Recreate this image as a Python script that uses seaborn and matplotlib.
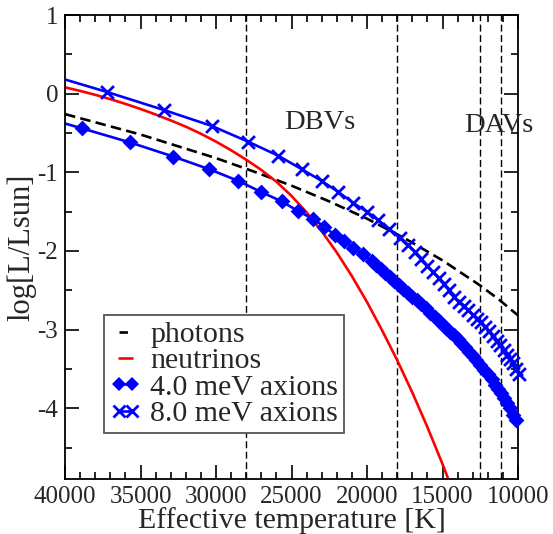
import numpy as np
import pandas as pd
import matplotlib
matplotlib.use("Agg")
import matplotlib.pyplot as plt
from matplotlib.lines import Line2D
from matplotlib.ticker import MultipleLocator
import seaborn as sns

# ---- data ----
T_photons = [40000, 37500, 35000, 32500, 30000, 27500, 25000, 22500, 20000, 17500,
             15000, 12500, 11250, 10000]
L_photons = [-0.26, -0.39, -0.52, -0.67, -0.82, -0.99, -1.17, -1.37, -1.59, -1.84,
             -2.12, -2.44, -2.62, -2.82]

T_neutrinos = [40000, 39000, 38000, 37000, 36000, 35000, 34000, 33000, 32000, 31000,
               30000, 29000, 28000, 27000, 26000, 25000, 24000, 23000, 22000, 21000,
               20000, 19000, 18000, 17000, 16000, 15000, 14000]
L_neutrinos = [0.08, 0.035, -0.015, -0.07, -0.13, -0.195, -0.265, -0.34, -0.42, -0.51,
               -0.61, -0.72, -0.84, -0.97, -1.12, -1.30, -1.51, -1.75, -2.02, -2.32,
               -2.65, -3.01, -3.39, -3.80, -4.24, -4.71, -5.21]

T_ax4 = [40000, 38900, 35700, 32830, 30460, 28520, 27020, 25650, 24590, 23600, 22830,
         22120, 21500, 20910, 20290, 19690, 19400, 19100, 18800, 18500, 18200, 17900,
         17600, 17300, 17000, 16700, 16400, 16100, 15800, 15500, 15250, 15000, 14750,
         14500, 14250, 14000, 13750, 13500, 13250, 13000, 12750, 12500, 12250, 12000,
         11750, 11500, 11300, 11100, 10900, 10700, 10500, 10300, 10130]
L_ax4 = [-0.38, -0.44, -0.62, -0.80, -0.96, -1.11, -1.25, -1.37, -1.49, -1.59, -1.69,
         -1.80, -1.87, -1.96, -2.04, -2.13, -2.18, -2.23, -2.28, -2.33, -2.38, -2.43,
         -2.48, -2.53, -2.58, -2.63, -2.68, -2.73, -2.79, -2.84, -2.89, -2.94, -2.98,
         -3.03, -3.07, -3.12, -3.17, -3.22, -3.28, -3.33, -3.39, -3.45, -3.51, -3.57,
         -3.63, -3.70, -3.75, -3.81, -3.87, -3.93, -4.00, -4.08, -4.15]

T_ax8 = [40000, 37200, 33420, 30290, 27880, 25870, 24330, 23000, 21900, 20910, 20020,
         19250, 18520, 17810, 17260, 16820, 16400, 16000, 15620, 15250, 14900, 14550,
         14220, 13900, 13600, 13300, 13000, 12720, 12450, 12180, 11920, 11670, 11420,
         11180, 10950, 10720, 10500, 10300, 10100, 9950]
L_ax8 = [0.18, 0.02, -0.21, -0.41, -0.61, -0.79, -0.96, -1.11, -1.25, -1.39, -1.50,
         -1.61, -1.72, -1.83, -1.93, -2.01, -2.10, -2.19, -2.27, -2.35, -2.42, -2.50,
         -2.58, -2.65, -2.70, -2.75, -2.81, -2.86, -2.91, -2.97, -3.02, -3.08, -3.15,
         -3.20, -3.26, -3.32, -3.38, -3.43, -3.50, -3.56]

strip_lines = [28000, 18000, 12500, 11100]
region_labels = ["DBVs", "DAVs"]
region_pos = [(23100, -0.37), (11300, -0.41)]

x_ticks = [40000, 35000, 30000, 25000, 20000, 15000, 10000]
y_ticks = [1, 0, -1, -2, -3, -4]

# ---- style ----
sns.set_style("ticks")
plt.rcParams['font.family'] = ['Liberation Serif', 'DejaVu Serif']
plt.rcParams['axes.unicode_minus'] = False

fig = plt.figure(figsize=(5.53, 5.34), dpi=100)
ax = fig.add_axes([65/553, 1-479/534, (518-65)/553, (479-15)/534])

BLUE = "#0000ff"
RED = "#ff0000"

for xv in strip_lines:
    ax.axvline(xv, color="black", lw=1.0, dashes=(5, 2.5), zorder=1)

sns.lineplot(x=T_photons, y=L_photons, ax=ax, color="black", lw=1.9,
             sort=False, estimator=None)
ax.lines[-1].set_dashes((4, 2))
sns.lineplot(x=T_neutrinos, y=L_neutrinos, ax=ax, color=RED, lw=1.9,
             sort=False, estimator=None)
sns.lineplot(x=T_ax4, y=L_ax4, ax=ax, color=BLUE, lw=1.9, sort=False, estimator=None)
sns.lineplot(x=T_ax8, y=L_ax8, ax=ax, color=BLUE, lw=1.9, sort=False, estimator=None)

sns.scatterplot(x=T_ax4[1:], y=L_ax4[1:], ax=ax, marker="D", color=BLUE,
                s=65, linewidth=0, clip_on=False, zorder=5)
sns.scatterplot(x=T_ax8[1:], y=L_ax8[1:], ax=ax, marker="x", color=BLUE,
                s=85, linewidth=2.0, clip_on=False, zorder=5)

for lab, (xx, yy) in zip(region_labels, region_pos):
    ax.text(xx, yy, lab, ha="center", va="center", fontsize=20.5)

ax.set_xlim(40000, 10000)
ax.set_ylim(-4.9, 1)
ax.set_xticks(x_ticks)
ax.set_xticklabels([str(t) for t in x_ticks])
ax.set_yticks(y_ticks)
ax.set_yticklabels([str(t) for t in y_ticks])
ax.xaxis.set_minor_locator(MultipleLocator(1000))
ax.yaxis.set_minor_locator(MultipleLocator(0.5))
ax.tick_params(which="both", direction="in", top=True, right=True, color="black",
               width=1.2, labelsize=18, pad=5)
ax.tick_params(which="major", length=10)
ax.tick_params(which="minor", length=5)
for sp in ax.spines.values():
    sp.set_visible(True)
    sp.set_color("black")
    sp.set_linewidth(1.3)

ax.set_xlabel("Effective temperature [K]", fontsize=21.5, labelpad=-1)
ax.set_ylabel("log[L/Lsun]", fontsize=22, labelpad=1)

handles = [
    Line2D([], [], color="black", lw=1.9, dashes=(3.2, 3.6)),
    Line2D([], [], color=RED, lw=1.9),
    Line2D([], [], color=BLUE, lw=1.9, marker="D", markersize=7.5, markeredgewidth=0),
    Line2D([], [], color=BLUE, lw=1.9, marker="x", markersize=8.5, markeredgewidth=2.0),
]
labels = ["photons", "neutrinos", "4.0 meV axions", "8.0 meV axions"]
leg = ax.legend(handles, labels, loc="upper left", bbox_to_anchor=(0.086, 0.353),
                borderaxespad=0, fontsize=21.5, numpoints=2, handlelength=1.05,
                handletextpad=0.3, labelspacing=-0.02, borderpad=0.2,
                fancybox=False, framealpha=1, edgecolor="#555555")
leg.get_frame().set_linewidth(1.3)

fig.savefig("out.png", dpi=100)
